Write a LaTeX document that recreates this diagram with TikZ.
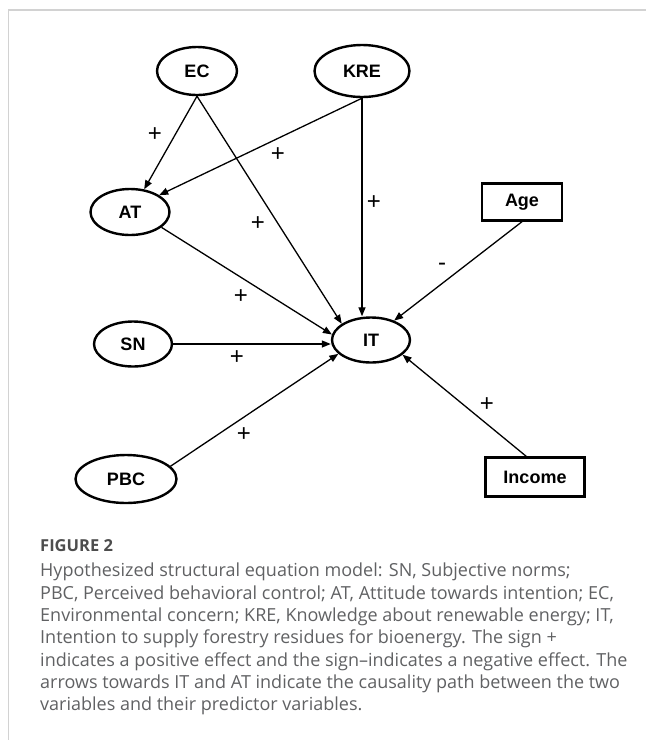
\documentclass[tikz,border=0pt]{standalone}
\usepackage{fontspec}
\setmainfont{Open Sans}
\newfontfamily\diagfont{Liberation Sans}
\usetikzlibrary{arrows.meta,shapes.geometric}
\definecolor{capgray}{HTML}{606163}
\definecolor{headgray}{HTML}{4D4D4D}
\definecolor{framegray}{HTML}{D2D2D2}

\begin{document}
\begin{tikzpicture}[x=1pt, y=-1pt,
  latent/.style={ellipse, draw, line width=2.4pt, inner sep=0pt,
    font=\diagfont\bfseries\fontsize{18}{20}\selectfont},
  observed/.style={rectangle, draw, line width=2.4pt, inner sep=0pt,
    font=\diagfont\bfseries\fontsize{18}{20}\selectfont},
  effect/.style={-{Triangle[length=9pt,width=7pt]}, line width=1.3pt},
  sign/.style={font=\diagfont\fontsize{24}{26}\selectfont}]
  \useasboundingbox (0,0) rectangle (646,740);

  % Frame
  \draw[framegray, line width=1.5pt] (8.5,740) -- (8.5,10) -- (646,10);

  % Constructs
  \node[latent, minimum width=80pt, minimum height=48pt] (ec) at (197,71) {EC};
  \node[latent, minimum width=95pt, minimum height=52pt] (kre) at (362,71) {KRE};
  \node[latent, minimum width=79pt, minimum height=46pt] (at) at (130,212) {AT};
  \node[latent, minimum width=78pt, minimum height=45pt] (sn) at (133,344) {SN};
  \node[latent, minimum width=78pt, minimum height=45pt] (it) at (371,340) {IT};
  \node[latent, minimum width=101pt, minimum height=48pt] (pbc) at (126,479) {PBC};
  \node[observed, minimum width=80pt, minimum height=37pt] (age) at (522,202) {Age};
  \node[observed, minimum width=99pt, minimum height=39pt] (income) at (535,477) {Income};

  % Paths
  \draw[effect] (ec.south) -- (at.58);
  \draw[effect] (ec.south) -- (it.151);
  \draw[effect] (kre.south) -- (at.30);
  \draw[effect] (kre.south) -- (kre.south |- it.north);
  \draw[effect] (at.-26) -- (it.172);
  \draw[effect] (sn.east) -- (sn.east -| it.west);
  \draw[effect] (pbc.16) -- (it.203);
  \draw[effect] (age.south) -- (it.40);
  \draw[effect] (income.113) -- (it.-25);

  % Signs
  \node[sign] (s1) at (155,135) {+};
  \node[sign] (s2) at (278,155) {+};
  \node[sign] (s3) at (258,224) {+};
  \node[sign] (s4) at (374,203) {+};
  \node[sign] (s5) at (442,267) {-};
  \node[sign] (s6) at (241,297) {+};
  \node[sign] (s7) at (237,358) {+};
  \node[sign] (s8) at (244,435) {+};
  \node[sign] (s9) at (487,405) {+};

  % Caption
  \node[anchor=base west, inner sep=0pt, text=headgray,
    font=\bfseries\fontsize{16.5}{20}\selectfont] (fig) at (40,551) {FIGURE 2};
  \node[anchor=north west, inner sep=0pt, align=left, text=capgray,
    font=\fontsize{18}{22.3}\selectfont] (cap) at (40,563)
    {Hypothesized structural equation model: SN, Subjective norms;\\
     PBC, Perceived behavioral control; AT, Attitude towards intention; EC,\\
     Environmental concern; KRE, Knowledge about renewable energy; IT,\\
     Intention to supply forestry residues for bioenergy. The sign +\\
     indicates a positive effect and the sign--indicates a negative effect. The\\
     arrows towards IT and AT indicate the causality path between the two\\
     variables and their predictor variables.};
\end{tikzpicture}
\end{document}
